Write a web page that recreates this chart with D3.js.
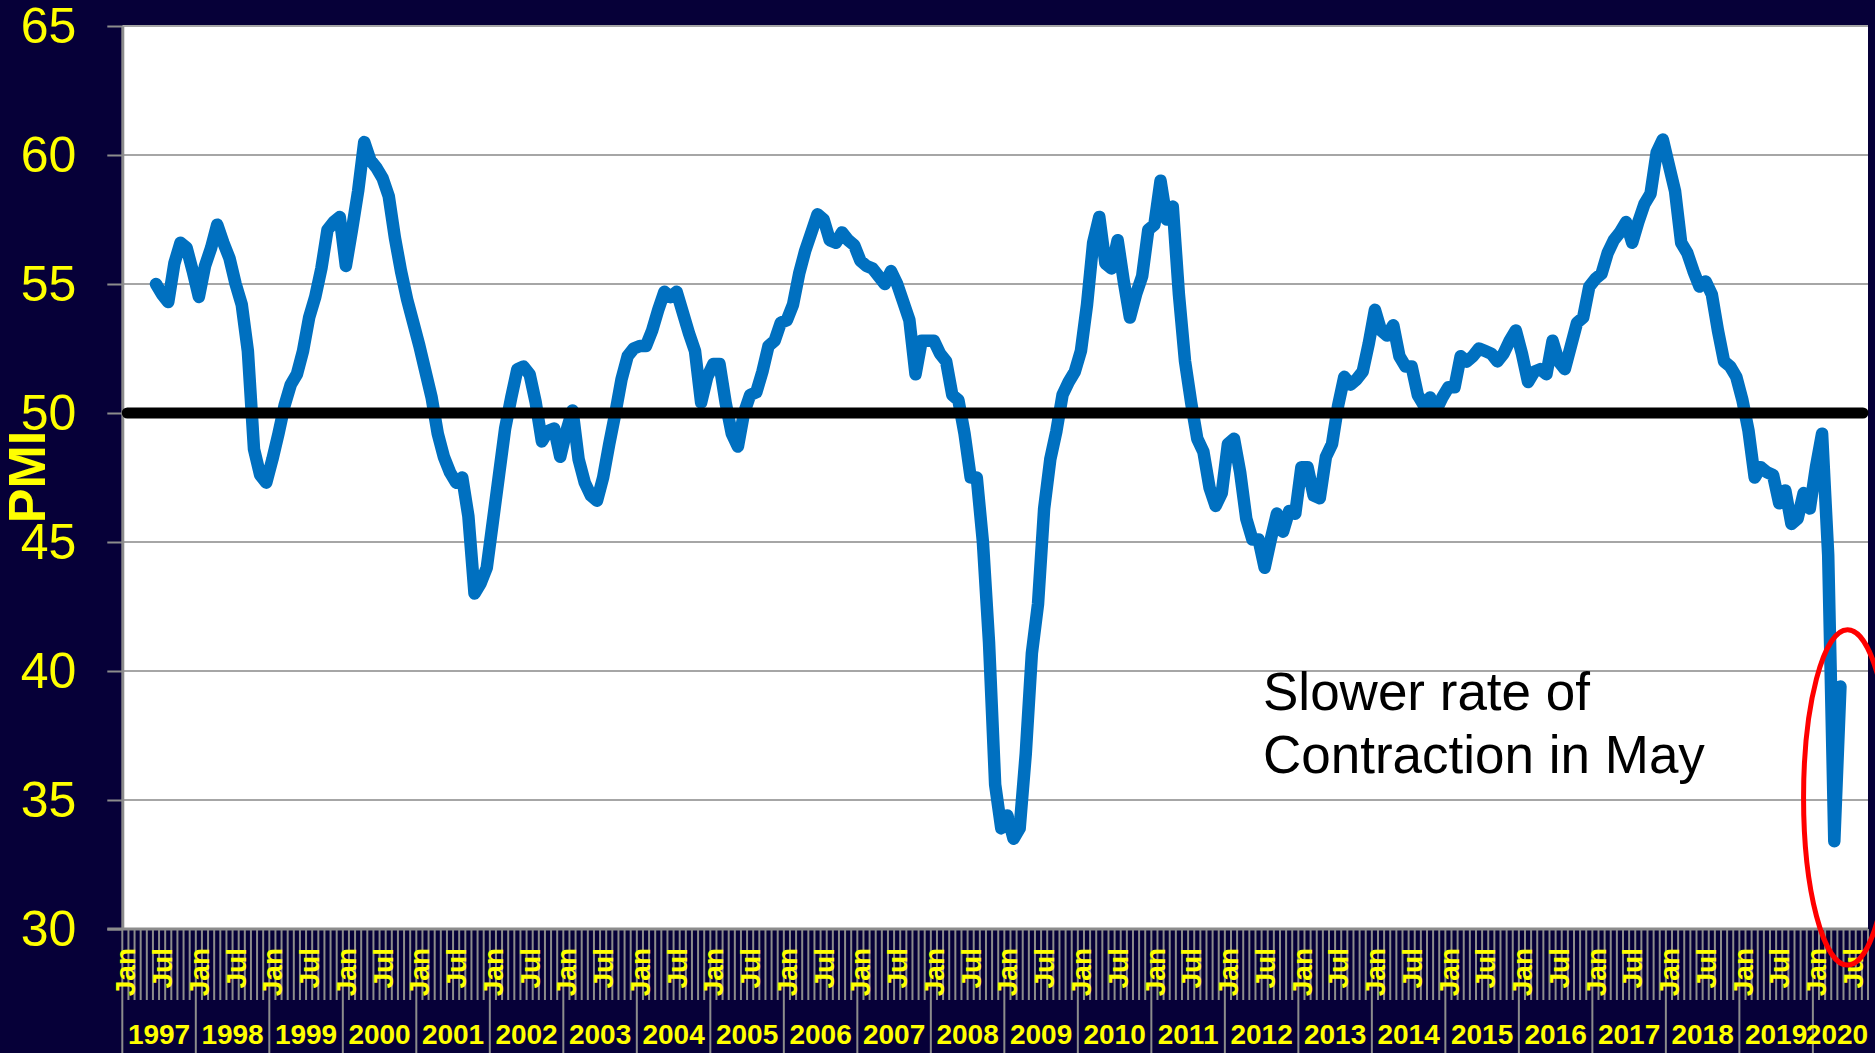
<!DOCTYPE html>
<html lang="en">
<head>
<meta charset="UTF-8">
<title>PMI</title>
<style>
  html, body { margin: 0; padding: 0; background: #060038; }
  svg { display: block; }
</style>
</head>
<body>
<div id="chart"></div>
<script src="https://cdn.jsdelivr.net/npm/d3@7"></script>
<script>

// category axis: every month from Jan 1997 to Sep 2020
const monthNames = ["Jan","Feb","Mar","Apr","May","Jun","Jul","Aug","Sep","Oct","Nov","Dec"];
const years = [1997,1998,1999,2000,2001,2002,2003,2004,2005,2006,2007,2008,
               2009,2010,2011,2012,2013,2014,2015,2016,2017,2018,2019,2020];
const monthsInLastYear = 9;
const monthTickLabels = ["Jan", "Jul"];
const yTicks = [30, 35, 40, 45, 50, 55, 60, 65];
const threshold = 50;

// PMI readings, first one is Jun 1997, last one May 2020
const firstMonth = "Jun 1997";
const pmi = [
  55.0, 54.6, 54.3, 55.8, 56.6, 56.4, 55.5,                          // 1997 (Jun-Dec)
  54.5, 55.7, 56.4, 57.3, 56.6, 56.0, 55.0, 54.2, 52.4, 48.6, 47.6, 47.3, // 1998
  48.2, 49.2, 50.3, 51.1, 51.5, 52.4, 53.7, 54.5, 55.6, 57.1, 57.4, 57.6, // 1999
  55.7, 57.1, 58.6, 60.5, 59.8, 59.5, 59.1, 58.4, 56.8, 55.5, 54.4, 53.5, // 2000
  52.6, 51.6, 50.6, 49.2, 48.3, 47.7, 47.3, 47.5, 46.0, 43.0, 43.4, 44.0, // 2001
  45.8, 47.6, 49.4, 50.6, 51.7, 51.8, 51.5, 50.4, 48.9, 49.3, 49.4, 48.3, // 2002
  49.3, 50.1, 48.2, 47.3, 46.8, 46.6, 47.5, 48.8, 50.0, 51.3, 52.2, 52.5, // 2003
  52.6, 52.6, 53.2, 54.0, 54.7, 54.5, 54.7, 53.9, 53.1, 52.4, 50.4, 51.4, // 2004
  51.9, 51.9, 50.4, 49.2, 48.7, 50.0, 50.7, 50.8, 51.6, 52.6, 52.8, 53.5, // 2005
  53.6, 54.2, 55.4, 56.3, 57.0, 57.7, 57.5, 56.7, 56.6, 57.0, 56.7, 56.5, // 2006
  55.9, 55.7, 55.6, 55.3, 55.0, 55.5, 55.0, 54.3, 53.6, 51.5, 52.8, 52.8, // 2007
  52.8, 52.3, 52.0, 50.7, 50.5, 49.2, 47.5, 47.5, 45.0, 41.1, 35.6, 33.9, // 2008
  34.4, 33.5, 33.9, 36.8, 40.7, 42.6, 46.3, 48.2, 49.3, 50.7, 51.2, 51.6, // 2009
  52.4, 54.2, 56.6, 57.6, 55.8, 55.6, 56.7, 55.1, 53.7, 54.6, 55.3, 57.1, // 2010
  57.3, 59.0, 57.5, 58.0, 54.6, 52.0, 50.4, 49.0, 48.5, 47.1, 46.4, 46.9, // 2011
  48.8, 49.0, 47.7, 45.9, 45.1, 45.1, 44.0, 45.1, 46.1, 45.4, 46.2, 46.1, // 2012
  47.9, 47.9, 46.8, 46.7, 48.3, 48.8, 50.3, 51.4, 51.1, 51.3, 51.6, 52.7, // 2013
  54.0, 53.2, 53.0, 53.4, 52.2, 51.8, 51.8, 50.7, 50.3, 50.6, 50.1, 50.6, // 2014
  51.0, 51.0, 52.2, 52.0, 52.2, 52.5, 52.4, 52.3, 52.0, 52.3, 52.8, 53.2, // 2015
  52.3, 51.2, 51.6, 51.7, 51.5, 52.8, 52.0, 51.7, 52.6, 53.5, 53.7, 54.9, // 2016
  55.2, 55.4, 56.2, 56.7, 57.0, 57.4, 56.6, 57.4, 58.1, 58.5, 60.1, 60.6, // 2017
  59.6, 58.6, 56.6, 56.2, 55.5, 54.9, 55.1, 54.6, 53.2, 52.0, 51.8, 51.4, // 2018
  50.5, 49.3, 47.5, 47.9, 47.7, 47.6, 46.5, 47.0, 45.7, 45.9, 46.9, 46.3, // 2019
  47.9, 49.2, 44.5, 33.4, 39.4                                        // 2020 (Jan-May)
];

const noteLines = ["Slower rate of", "Contraction in May"];

// ---- build categories
const categories = [];
years.forEach((yr, yi) => {
  const n = yi === years.length - 1 ? monthsInLastYear : 12;
  for (let m = 0; m < n; m++) categories.push(monthNames[m] + " " + yr);
});
const start = categories.indexOf(firstMonth);
const series = pmi.map((v, i) => ({ cat: categories[start + i], value: v }));

// ---- dimensions
const W = 1875, H = 1053;
const plot = { left: 122.3, right: 1868, top: 26, bottom: 929 };
const yellow = "#ffff00";
const font = "'Liberation Sans', Arial, sans-serif";

const svg = d3.select("#chart").append("svg")
    .attr("width", W)
    .attr("height", H);

svg.append("rect").attr("width", W).attr("height", H).attr("fill", "#060038");
svg.append("rect")
    .attr("x", plot.left).attr("y", plot.top)
    .attr("width", plot.right - plot.left).attr("height", plot.bottom - plot.top)
    .attr("fill", "#ffffff");

const x = d3.scaleBand().domain(categories).range([plot.left, plot.right]).padding(0);
const y = d3.scaleLinear().domain([30, 65]).range([plot.bottom, plot.top]);
const bw = x.bandwidth();

// gridlines
svg.append("g")
  .selectAll("line")
  .data(yTicks.filter(d => d > 30))
  .join("line")
    .attr("x1", plot.left).attr("x2", plot.right)
    .attr("y1", d => y(d)).attr("y2", d => y(d))
    .attr("stroke", "#a6a6a6")
    .attr("stroke-width", 2);

// y axis
svg.append("g")
    .attr("transform", `translate(${plot.left},0)`)
    .call(d3.axisLeft(y).tickValues(yTicks).tickSize(15).tickSizeOuter(0).tickPadding(31))
    .call(g => g.select(".domain").attr("stroke", "#8c8c8c").attr("stroke-width", 3))
    .call(g => g.selectAll(".tick line").attr("stroke", "#8c8c8c").attr("stroke-width", 2))
    .call(g => g.selectAll(".tick text")
        .attr("fill", yellow)
        .style("font-family", font)
        .style("font-size", "50px"));

// x axis: month tick marks, longer at each year
const bounds = d3.range(categories.length + 1);
svg.append("g")
  .selectAll("line")
  .data(bounds)
  .join("line")
    .attr("x1", k => plot.left + k * bw)
    .attr("x2", k => plot.left + k * bw)
    .attr("y1", plot.bottom)
    .attr("y2", k => k % 12 === 0 ? H : 1000)
    .attr("stroke", "#8c8c8c")
    .attr("stroke-width", 2);

svg.append("line")
    .attr("x1", plot.left - 15).attr("x2", plot.right)
    .attr("y1", plot.bottom).attr("y2", plot.bottom)
    .attr("stroke", "#8c8c8c")
    .attr("stroke-width", 3);

// Jan / Jul labels
svg.append("g")
  .selectAll("text")
  .data(categories.filter(c => monthTickLabels.includes(c.slice(0, 3))))
  .join("text")
    .attr("transform", c => `translate(${x(c) + bw / 2},948) rotate(-90)`)
    .attr("text-anchor", "end")
    .attr("dy", "0.36em")
    .attr("fill", yellow)
    .style("font-family", font)
    .style("font-weight", "bold")
    .style("font-size", "28px")
    .text(c => c.slice(0, 3));

// year labels
svg.append("g")
  .selectAll("text")
  .data(years)
  .join("text")
    .attr("x", yr => {
      const cats = categories.filter(c => c.endsWith(yr));
      const a = x(cats[0]), b = x(cats[cats.length - 1]) + bw;
      return Math.min((a + b) / 2, plot.right - 31);
    })
    .attr("y", 1044)
    .attr("text-anchor", "middle")
    .attr("fill", yellow)
    .style("font-family", font)
    .style("font-weight", "bold")
    .style("font-size", "28px")
    .text(yr => yr);

// the PMI line
const line = d3.line()
    .x(d => x(d.cat) + bw / 2)
    .y(d => y(d.value));

svg.append("path")
    .datum(series)
    .attr("d", line)
    .attr("fill", "none")
    .attr("stroke", "#0070c0")
    .attr("stroke-width", 12.5)
    .attr("stroke-linejoin", "round")
    .attr("stroke-linecap", "round");

// 50 = no change line
svg.append("line")
    .attr("x1", plot.left + 5).attr("x2", plot.right - 5)
    .attr("y1", y(threshold)).attr("y2", y(threshold))
    .attr("stroke", "#000")
    .attr("stroke-width", 11)
    .attr("stroke-linecap", "round");

// annotation
svg.append("text")
    .attr("x", 1263)
    .attr("y", 710)
    .attr("fill", "#000")
    .style("font-family", font)
    .style("font-size", "53px")
  .selectAll("tspan")
  .data(noteLines)
  .join("tspan")
    .attr("x", 1263)
    .attr("dy", (d, i) => i === 0 ? 0 : 63)
    .text(d => d);

// red ellipse around the last two readings
svg.append("ellipse")
    .attr("cx", x("Jun 2020") + bw / 2 + 1)
    .attr("cy", y(35.1))
    .attr("rx", 44)
    .attr("ry", y(28.6) - y(35.1))
    .attr("fill", "none")
    .attr("stroke", "#ff0000")
    .attr("stroke-width", 5);

// axis title
svg.append("text")
    .attr("transform", "translate(26,477) rotate(-90)")
    .attr("text-anchor", "middle")
    .attr("dy", "0.36em")
    .attr("fill", yellow)
    .style("font-family", font)
    .style("font-weight", "bold")
    .style("font-size", "52px")
    .text("PMI");

</script>
</body>
</html>
